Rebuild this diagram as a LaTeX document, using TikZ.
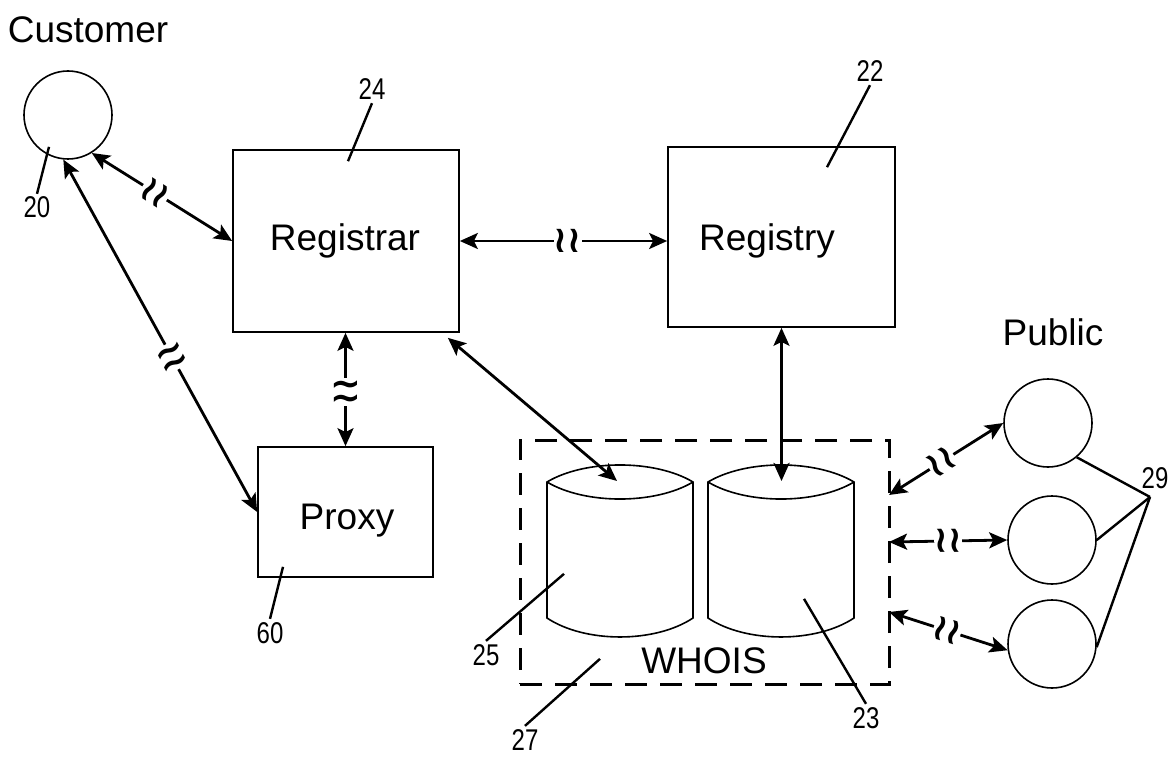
\documentclass[tikz,border=0pt]{standalone}
\usepackage{fontspec}
\setmainfont{Liberation Sans}
\newfontfamily\numfont[FakeStretch=0.8]{Liberation Sans}
\newfontfamily\brkfont{DejaVu Sans}
\usetikzlibrary{arrows.meta}
\newcommand{\brkmark}{≀≀}
\tikzset{
	dbcyl/.pic={
		\draw[line width=1.6pt, fill=white] (-73,0) .. controls (-35,-22.7) and (35,-22.7) .. (73,0) -- (73,136) .. controls (35,161.3) and (-35,161.3) .. (-73,136) -- cycle;
		\draw[line width=1.6pt] (-73,0) .. controls (-35,22.7) and (35,22.7) .. (73,0);
	}
}

\begin{document}
\begin{tikzpicture}[x=1pt, y=-1pt,
		box/.style={draw, line width=1.7pt, inner sep=0pt},
		person/.style={circle, draw, line width=1.6pt, minimum size=88pt, inner sep=0pt},
		link/.style={{Stealth[length=18pt,width=16pt,inset=4pt]}-{Stealth[length=18pt,width=16pt,inset=4pt]}, line width=2.8pt},
		brk/.style={sloped, fill=white, inner sep=0pt, font=\brkfont\bfseries\fontsize{37}{37}\selectfont},
		big/.style={font=\fontsize{37}{40}\selectfont, anchor=base, inner sep=0pt},
		lbl/.style={font=\numfont\fontsize{30}{30}\selectfont, anchor=base, inner sep=3pt},
		lead/.style={line width=2.4pt}]
	\useasboundingbox (0,0) rectangle (1172,759);
	\node[big] (custtxt) at (88,43) {Customer};
	\node[big] (pubtxt) at (1053,345) {Public};
	\node[person] (cust) at (68,115) {};
	\node[box, minimum width=226pt, minimum height=182pt] (reg) at (346,241) {};
	\node[box, minimum width=227pt, minimum height=180pt] (regy) at (781.5,237) {};
	\node[box, minimum width=175pt, minimum height=130pt] (proxy) at (345.5,512) {};
	\node[big] (regtxt) at (345,251) {Registrar};
	\node[big] (regytxt) at (767,251) {Registry};
	\node[big] (proxytxt) at (347,529) {Proxy};
	\node[draw, line width=3pt, dash pattern=on 22pt off 13pt, minimum width=369pt, minimum height=244pt, inner sep=0pt] (whois) at (704.5,562) {};
	\pic at (620,482) {dbcyl};
	\pic at (781,482) {dbcyl};
	\node[big] (whoistxt) at (704,673) {WHOIS};
	\foreach \n/\x/\y in {1/1048/423, 2/1052/540, 3/1052/644}
		\node[person] (p\n) at (\x,\y) {};
	\coordinate (db1top) at (617,481);
	\coordinate (db2top) at (782,481);
	\coordinate (w1) at (889,495);
	\coordinate (w2) at (889,542);
	\coordinate (w3) at (889,612);
	\coordinate (j29) at (1150,497);

	\draw[link] (cust.-58) -- node[brk, pos=.45] (b1) {\brkmark} (reg.west);
	\draw[link] (cust.-96) -- node[brk, pos=.56] (b2) {\brkmark} (proxy.west);
	\draw[link] (reg.east) -- node[brk, pos=.52] (b3) {\brkmark} (reg.east -| regy.west);
	\draw[link] (proxy.north) -- node[brk, pos=.48] (b4) {\brkmark} (proxy.north |- reg.south);
	\draw[link] ([xshift=-12pt,yshift=-5pt]reg.south east) -- (db1top);
	\draw[link] (regy.south) -- (regy.south |- db2top);
	\draw[link] (w1) -- node[brk, pos=.46] (b5) {\brkmark} (p1.west);
	\draw[link] (w2) -- node[brk] (b6) {\brkmark} (p2.west);
	\draw[link] (w3) -- node[brk, pos=.49] (b7) {\brkmark} (p3.188);

	\node[lbl] (l20) at (37,218) {20};
	\node[lbl] (l24) at (372,100) {24};
	\node[lbl] (l22) at (870,82) {22};
	\node[lbl] (l60) at (270,643) {60};
	\node[lbl] (l25) at (486,665) {25};
	\node[lbl] (l27) at (525,750) {27};
	\node[lbl] (l23) at (866,728) {23};
	\node[lbl] (l29) at (1155,488) {29};
	\draw[lead] (l20.north) -- ++(12,-47);
	\draw[lead] (l24.south) -- ++(-24,58);
	\draw[lead] (l22.south) -- ++(-43,82);
	\draw[lead] (l60.north) -- ++(13,-52);
	\draw[lead] (l25.north) -- ++(78,-67);
	\draw[lead] (l27.north) -- ++(75,-67);
	\draw[lead] (l23.north) -- ++(-62,-105);
	\foreach \a in {p1.-50, p2.east, p3.-4}
		\draw[lead] (j29) -- (\a);
\end{tikzpicture}
\end{document}
